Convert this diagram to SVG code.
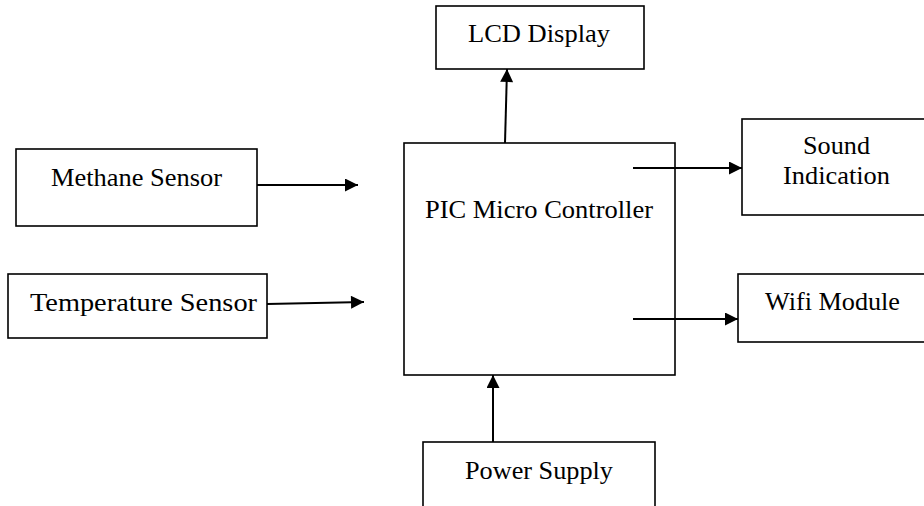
<svg xmlns="http://www.w3.org/2000/svg" width="924" height="506" viewBox="0 0 924 506">
<style>
.box{fill:#fff;stroke:#000;stroke-width:1.6}
.lbl{font-family:"Liberation Serif","Times New Roman",serif;font-size:26px;fill:#000;text-anchor:middle}
.ln{stroke:#000;stroke-width:2;fill:none}
</style>
<defs>
<marker id="ah" viewBox="0 0 10 10" refX="10" refY="5" markerWidth="15" markerHeight="13" markerUnits="userSpaceOnUse" orient="auto">
<path d="M0,0 L10,5 L0,10 Z" fill="#000"/>
</marker>
</defs>
<rect width="924" height="506" fill="#fff"/>
<g id="pic"><rect class="box" x="404" y="143" width="271" height="232"/><text class="lbl" x="539" y="218" textLength="228" lengthAdjust="spacingAndGlyphs">PIC Micro Controller</text></g>
<g id="lcd"><rect class="box" x="436" y="6" width="208" height="63"/><text class="lbl" x="539" y="42" textLength="142" lengthAdjust="spacingAndGlyphs">LCD Display</text></g>
<g id="methane"><rect class="box" x="16" y="149" width="241" height="77"/><text class="lbl" x="136.5" y="186" textLength="171" lengthAdjust="spacingAndGlyphs">Methane Sensor</text></g>
<g id="temp"><rect class="box" x="8" y="274" width="259" height="64"/><text class="lbl" x="143.5" y="311" textLength="227" lengthAdjust="spacingAndGlyphs">Temperature Sensor</text></g>
<g id="sound"><rect class="box" x="742" y="119" width="190" height="96"/><text class="lbl" x="836.5" y="154" textLength="67" lengthAdjust="spacingAndGlyphs">Sound</text><text class="lbl" x="836.5" y="184" textLength="107" lengthAdjust="spacingAndGlyphs">Indication</text></g>
<g id="wifi"><rect class="box" x="738" y="274" width="194" height="68"/><text class="lbl" x="832.5" y="310" textLength="135" lengthAdjust="spacingAndGlyphs">Wifi Module</text></g>
<g id="power"><rect class="box" x="423" y="442" width="232" height="70"/><text class="lbl" x="539" y="479" textLength="148" lengthAdjust="spacingAndGlyphs">Power Supply</text></g>
<g id="connectors">
<line class="ln" x1="257" y1="185" x2="358" y2="185" marker-end="url(#ah)"/>
<line class="ln" x1="267" y1="304" x2="364" y2="302" marker-end="url(#ah)"/>
<line class="ln" x1="505" y1="143" x2="507" y2="69" marker-end="url(#ah)"/>
<line class="ln" x1="633" y1="168" x2="742" y2="168" marker-end="url(#ah)"/>
<line class="ln" x1="633" y1="319" x2="738" y2="319" marker-end="url(#ah)"/>
<line class="ln" x1="493" y1="442" x2="493" y2="375" marker-end="url(#ah)"/>
</g>
</svg>
